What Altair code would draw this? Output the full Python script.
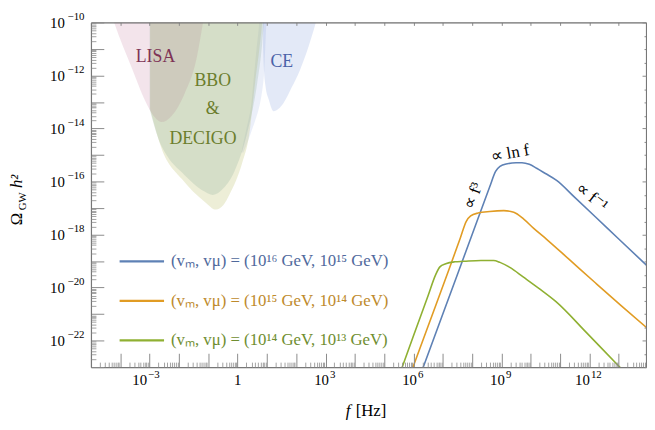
import altair as alt
import pandas as pd

FONT = "Liberation Serif"
W, H = 562, 349
X_DOMAIN = [1e-5, 10 ** 13.93]
Y_DOMAIN = [1e-23, 1e-10]

# ---------------- data (log10 values) ----------------
series_names = ["a", "b", "c"]
series_colors = ["#5e81b5", "#e19c24", "#8fb032"]
legend_labels = [
    "(vₘ, vμ) = (10¹⁶ GeV, 10¹⁵ GeV)",
    "(vₘ, vμ) = (10¹⁵ GeV, 10¹⁴ GeV)",
    "(vₘ, vμ) = (10¹⁴ GeV, 10¹³ GeV)",
]
legend_text_colors = ["#50699c", "#be8a2c", "#6f8e30"]

blue_logf = [6.2, 7.0, 8.0, 8.6, 8.8, 8.95, 9.2, 9.5, 9.7, 9.95, 10.2, 10.5, 10.88, 11.5, 12.2, 13.0, 13.96]
blue_logo = [-23.4, -21.0, -18.0, -16.2, -15.62, -15.43, -15.33, -15.29, -15.29, -15.35, -15.5, -15.7, -15.96, -16.6, -17.33, -18.17, -19.17]

orange_logf = [5.9, 6.5, 7.2, 7.6, 7.8, 7.95, 8.2, 8.6, 9.08, 9.42, 9.76, 10.1, 10.54, 11.3, 12.2, 13.1, 13.96]
orange_logo = [-23.25, -21.45, -19.35, -18.12, -17.5, -17.3, -17.19, -17.13, -17.10, -17.16, -17.42, -17.77, -18.18, -18.93, -19.82, -20.7, -21.52]

green_logf = [5.55, 6.0, 6.5, 6.75, 6.9, 7.1, 7.4, 7.72, 8.3, 8.73, 8.95, 9.3, 9.74, 10.3, 10.86, 11.9, 12.99, 13.3]
green_logo = [-23.2, -21.82, -20.3, -19.53, -19.22, -19.1, -19.03, -19.01, -18.98, -18.98, -19.05, -19.25, -19.6, -20.05, -20.53, -21.7, -22.95, -23.3]

# sensitivity regions (lower boundary, log10)
lisa_logf = [-4.38, -4.21, -3.6, -3.145, -2.81, -2.59, -2.25, -1.8, -1.41, -1.18, -1.115]
lisa_logo = [-9.44, -10.0, -11.74, -12.97, -13.6, -13.76, -13.53, -12.67, -11.42, -10.0, -9.55]

bbo_logf = [-3.0, -2.7, -2.36, -1.91, -1.125, -0.846, -0.476, -0.116, 0.332, 0.669, 0.837, 0.894, 0.921]
bbo_logo = [-13.27, -14.39, -15.1, -15.64, -16.38, -16.51, -16.25, -15.64, -14.15, -12.29, -10.81, -10.0, -9.44]

decigo_logf = [-2.983, -2.586, -1.913, -1.125, -0.735, -0.476, -0.284, 0.164, 0.389, 0.602, 0.77, 0.837, 0.871]
decigo_logo = [-13.27, -14.77, -15.89, -16.76, -17.06, -16.88, -16.51, -15.27, -14.28, -12.23, -10.74, -10.0, -9.44]

ce_logf = [0.871, 0.894, 0.955, 1.063, 1.231, 1.568, 1.847, 2.126, 2.52, 2.665, 2.722]
ce_logo = [-10.93, -11.67, -12.42, -12.91, -13.35, -13.04, -12.45, -11.8, -10.56, -10.0, -9.7]

# faint blue sliver (horizontal: left/right edge for each level)
et_logo = [-9.55, -10.0, -11.12, -12.31, -13.35, -14.02, -14.54, -14.91]
et_logf_left = [0.753, 0.736, 0.635, 0.534, 0.433, 0.299, 0.198, 0.130]
et_logf_right = [1.005, 0.982, 0.938, 0.871, 0.702, 0.5, 0.332, 0.198]

region_texts = ["LISA", "BBO", "&", "DECIGO", "CE"]
region_text_logf = [-2.80, -0.846, -0.846, -1.18, 1.51]
region_text_logo = [-11.30, -12.23, -13.27, -14.39, -11.49]
region_text_colors = ["#7e3356", "#6b7d2c", "#6b7d2c", "#6b7d2c", "#4a62a8"]

annot_texts = ["∝ ln f", "∝ f³", "∝ f⁻¹"]
annot_logf = [9.29, 8.04, 12.08]
annot_logo = [-14.94, -16.54, -16.58]
annot_angles = [350, 290, 38]

x_label_exps = [-3, 0, 3, 6, 9, 12]
x_label_base = ["10", "1", "10", "10", "10", "10"]
x_label_sup = ["−3", "", "3", "6", "9", "12"]
y_label_exps = [-22, -20, -18, -16, -14, -12, -10]
y_label_base = ["10", "10", "10", "10", "10", "10", "10"]
y_label_sup = ["−22", "−20", "−18", "−16", "−14", "−12", "−10"]

# ---------------- tables ----------------
def pw(v):
    return [10.0 ** a for a in v]

rows = []
for name, lf, lo in zip(series_names, [blue_logf, orange_logf, green_logf], [blue_logo, orange_logo, green_logo]):
    for i, (a, b) in enumerate(zip(lf, lo)):
        rows.append({"s": name, "i": i, "f": 10.0 ** a, "o": 10.0 ** b})
lines_df = pd.DataFrame(rows)

xs = alt.Scale(type="log", domain=X_DOMAIN, nice=False)
ys = alt.Scale(type="log", domain=Y_DOMAIN, nice=False)


def region(lf, lo, color, opacity):
    df = pd.DataFrame({"f": pw(lf), "o": pw(lo), "top": [1e-8] * len(lf)})
    return alt.Chart(df).mark_area(color=color, opacity=opacity, clip=True, interpolate="monotone").encode(
        x=alt.X("f:Q", scale=xs, axis=None),
        y=alt.Y("o:Q", scale=ys, axis=None),
        y2="top:Q",
    )


et_df = pd.DataFrame({"o": pw(et_logo), "fl": pw(et_logf_left), "fr": pw(et_logf_right)})
et_layer = alt.Chart(et_df).mark_area(orient="horizontal", color="#6f8fd8", opacity=0.14, clip=True,
                                      interpolate="monotone").encode(
    y=alt.Y("o:Q", scale=ys, axis=None),
    x=alt.X("fl:Q", scale=xs, axis=None),
    x2="fr:Q",
)

decigo_layer = region(decigo_logf, decigo_logo, "#b7bb5f", 0.25)
lisa_layer = region(lisa_logf, lisa_logo, "#af4b7a", 0.15)
bbo_layer = region(bbo_logf, bbo_logo, "#91ae9b", 0.25)
ce_layer = region(ce_logf, ce_logo, "#5078d0", 0.16)

lines_layer = alt.Chart(lines_df).mark_line(clip=True, strokeWidth=1.6, interpolate="monotone").encode(
    x=alt.X("f:Q", scale=xs, axis=None),
    y=alt.Y("o:Q", scale=ys, axis=None),
    color=alt.Color("s:N", scale=alt.Scale(domain=series_names, range=series_colors), legend=None),
    order="i:Q",
)

reg_df = pd.DataFrame({"t": region_texts, "f": pw(region_text_logf), "o": pw(region_text_logo), "c": region_text_colors})
reg_layer = alt.Chart(reg_df).mark_text(font=FONT, fontSize=18, baseline="middle").encode(
    x=alt.X("f:Q", scale=xs, axis=None),
    y=alt.Y("o:Q", scale=ys, axis=None),
    text="t:N",
    color=alt.Color("c:N", scale=None),
)

ann_df = pd.DataFrame({"t": annot_texts, "f": pw(annot_logf), "o": pw(annot_logo), "a": annot_angles})
ann_layer = alt.Chart(ann_df).mark_text(font=FONT, fontSize=17, baseline="middle", color="black").encode(
    x=alt.X("f:Q", scale=xs, axis=None),
    y=alt.Y("o:Q", scale=ys, axis=None),
    text="t:N",
    angle=alt.Angle("a:Q", scale=None),
)

leg_df = pd.DataFrame({"t": legend_labels, "c": series_colors, "tc": legend_text_colors, "row": [0, 1, 2]})
leg_base = alt.Chart(leg_df).transform_calculate(py="242 + 40 * datum.row")
leg_rules = leg_base.mark_rule(strokeWidth=2.4).encode(
    x=alt.value(29), x2=alt.value(74),
    y=alt.Y("py:Q", scale=None, axis=None),
    color=alt.Color("c:N", scale=None),
)
leg_text = leg_base.mark_text(font=FONT, fontSize=17, align="left", baseline="middle").encode(
    x=alt.value(81),
    y=alt.Y("py:Q", scale=None, axis=None),
    text="t:N",
    color=alt.Color("tc:N", scale=None),
)

one = pd.DataFrame({"t": [""]})
ytitle_omega = alt.Chart(one).mark_text(font=FONT, fontSize=17, angle=270, align="center", baseline="alphabetic",
                                        text="Ω", color="black").encode(x=alt.value(-70), y=alt.value(199))
ytitle_gw = alt.Chart(one).mark_text(font=FONT, fontSize=11, angle=270, align="center", baseline="alphabetic",
                                     text="GW", color="black").encode(x=alt.value(-66), y=alt.value(181))
ytitle_h = alt.Chart(one).mark_text(font=FONT, fontSize=17, angle=270, align="center", baseline="alphabetic",
                                    text="h²", fontStyle="italic", color="black").encode(x=alt.value(-70), y=alt.value(161))
xtitle_f = alt.Chart(one).mark_text(font=FONT, fontSize=17, align="left", baseline="alphabetic",
                                    text="f", fontStyle="italic", color="black").encode(x=alt.value(258), y=alt.value(399))
xtitle_hz = alt.Chart(one).mark_text(font=FONT, fontSize=17, align="left", baseline="alphabetic",
                                     text="[Hz]", color="black").encode(x=alt.value(268), y=alt.value(399))


# ---------------- axes ----------------
E = "round(log(datum.value)/LN10)"


def label_expr(exps, labels):
    parts = [f"({E} == {ex}) ? '{lab}'" for ex, lab in zip(exps, labels)]
    return " : ".join(parts) + " : ''"


# horizontal shift of the "10" part of each x label (so the whole label is centred)
x_base_shift = {-3: -3, 0: 3.5, 3: 3, 6: 3, 9: 3, 12: 0}


def cond_offset(extra):
    conds = [{"test": f"{E} == {ex}", "value": v + extra} for ex, v in x_base_shift.items()]
    return {"condition": conds, "value": 0}


lo_x, hi_x = X_DOMAIN
lo_y, hi_y = Y_DOMAIN
x_major = [10.0 ** k for k in range(-5, 14) if lo_x <= 10.0 ** k <= hi_x]
x_minor = [m * 10.0 ** k for k in range(-5, 14) for m in range(2, 10) if lo_x <= m * 10.0 ** k <= hi_x]
y_major = [10.0 ** k for k in range(-23, -9)]
y_minor = [m * 10.0 ** k for k in range(-23, -10) for m in range(2, 10)]
y_right_small = [10.0 ** k for k in range(-23, -9) if k % 2 != 0] + [3 * 10.0 ** k for k in range(-23, -10)]
y_right_long = [10.0 ** k for k in range(-22, -9, 2)]

TICK = "#8a8a8a"
FRAME = "#777777"

adf = pd.DataFrame({"f": [1.0], "o": [1e-15]})


def axis_layer(xa, ya):
    return alt.Chart(adf).mark_point(opacity=0).encode(
        x=alt.X("f:Q", scale=xs, axis=xa),
        y=alt.Y("o:Q", scale=ys, axis=ya),
    )


common_lbl = dict(ticks=False, domain=False, grid=False, title=None, labelFont=FONT, labelColor="black",
                  labelFlush=False, labelOverlap=False, labelBound=False)

ax_base = axis_layer(
    alt.Axis(orient="bottom", values=pw(x_label_exps), labelExpr=label_expr(x_label_exps, x_label_base),
             labelFontSize=15, labelPadding=17.5, labelBaseline="alphabetic", labelAlign="right",
             labelOffset=cond_offset(0), **common_lbl),
    alt.Axis(orient="left", values=pw(y_label_exps), labelExpr=label_expr(y_label_exps, y_label_base),
             labelFontSize=15, labelPadding=27, labelBaseline="middle", labelAlign="right", **common_lbl),
)
ax_sup = axis_layer(
    alt.Axis(orient="bottom", values=pw(x_label_exps), labelExpr=label_expr(x_label_exps, x_label_sup),
             labelFontSize=11, labelPadding=10.5, labelBaseline="alphabetic", labelAlign="left",
             labelOffset=cond_offset(1), **common_lbl),
    alt.Axis(orient="left", values=pw(y_label_exps), labelExpr=label_expr(y_label_exps, y_label_sup),
             labelFontSize=11, labelPadding=7, labelBaseline="middle", labelAlign="right", labelOffset=-6,
             **common_lbl),
)
ax_major = axis_layer(
    alt.Axis(orient="top", offset=-H, values=x_major, labels=False, tickSize=14, tickColor=TICK, tickWidth=1,
             domain=True, domainColor=FRAME, domainWidth=1.2, grid=False, title=None, zindex=1),
    alt.Axis(orient="right", offset=-W, values=y_major, labels=False, tickSize=13, tickColor=TICK, tickWidth=1,
             domain=True, domainColor=FRAME, domainWidth=1.2, grid=False, title=None, zindex=1),
)
ax_minor = axis_layer(
    alt.Axis(orient="top", offset=-H, values=x_minor, labels=False, tickSize=5, tickColor=TICK, tickWidth=0.8,
             domain=False, grid=False, title=None, zindex=1),
    alt.Axis(orient="right", offset=-W, values=y_minor, labels=False, tickSize=5, tickColor=TICK, tickWidth=0.8,
             domain=False, grid=False, title=None, zindex=1),
)
ax_far = axis_layer(
    alt.Axis(orient="bottom", offset=-H, values=x_major, labels=False, tickSize=3, tickColor=TICK, tickWidth=1,
             domain=True, domainColor=FRAME, domainWidth=1.2, grid=False, title=None, zindex=1),
    alt.Axis(orient="left", offset=-W, values=y_right_small, labels=False, tickSize=2, tickColor=TICK, tickWidth=1,
             domain=True, domainColor=FRAME, domainWidth=1.2, grid=False, title=None, zindex=1),
)
ax_far2 = axis_layer(
    None,
    alt.Axis(orient="left", offset=-W, values=y_right_long, labels=False, tickSize=4, tickColor=TICK, tickWidth=1,
             domain=False, grid=False, title=None, zindex=1),
)

layers = [
    et_layer, decigo_layer, lisa_layer, bbo_layer, ce_layer,
    lines_layer, reg_layer, ann_layer, leg_rules, leg_text,
    ytitle_omega, ytitle_gw, ytitle_h, xtitle_f, xtitle_hz,
    ax_base, ax_sup, ax_major, ax_minor, ax_far, ax_far2,
]

chart = alt.layer(*layers).resolve_axis(x="independent", y="independent").properties(
    width=W, height=H,
    autosize=alt.AutoSizeParams(type="none"),
    padding={"left": 84, "top": 12, "right": 1, "bottom": 53},
).configure_view(strokeWidth=0).configure(background="white")

chart.save("out.html", embed_options={"renderer": "svg", "actions": False})
